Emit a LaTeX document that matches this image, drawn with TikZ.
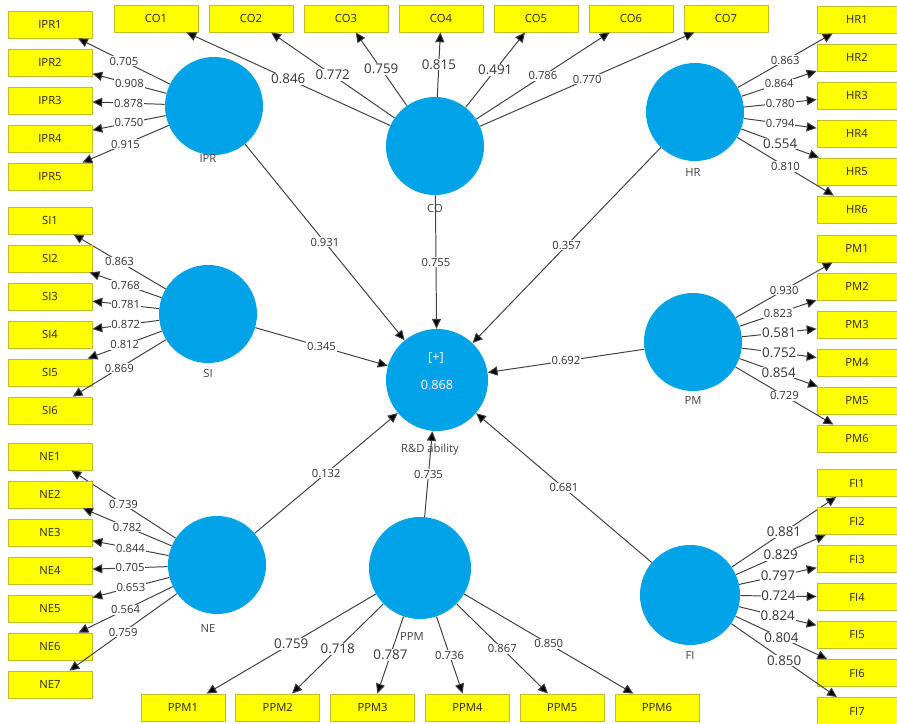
\documentclass[tikz,border=0pt]{standalone}
\usepackage{fontspec}
\setmainfont{Open Sans}
\usetikzlibrary{calc}
\usetikzlibrary{arrows.meta}
\definecolor{plsblue}{RGB}{0,162,232}
\definecolor{indyellow}{RGB}{255,255,0}
\definecolor{indedge}{RGB}{190,190,40}
\tikzset{
  latent/.style={circle, fill=plsblue, inner sep=0pt, minimum size=2.45cm},
  ind/.style={rectangle, fill=indyellow, draw=indedge, line width=0.6pt, minimum width=2.1cm, minimum height=0.675cm, inner sep=0pt, font=\fontsize{8}{9}\selectfont, text=black!85},
  load/.style={->, >={Triangle[length=7pt, width=6.5pt, fill=black]}, draw=black!75, line width=0.7pt},
  lsmall/.style={fill=white, inner sep=0.6pt, font=\fontsize{8}{9}\selectfont, text=black!80},
  lbig/.style={fill=white, inner sep=0.6pt, font=\fontsize{9.5}{10}\selectfont, text=black!80},
  lvname/.style={font=\fontsize{8}{9}\selectfont, text=black!75},
  inw/.style={font=\fontsize{9}{10}\selectfont, text=white},
}

\begin{document}
\begin{tikzpicture}[x=0.025cm, y=-0.025cm]
\useasboundingbox (0,0) rectangle (897,724);

% latent variables
\node[latent] (IPR) at (214,106) {};
\node[latent] (CO) at (435,146) {};
\node[latent] (HR) at (695,112) {};
\node[latent] (SI) at (208,314) {};
\node[latent] (PM) at (693,342) {};
\node[latent] (NE) at (217,565) {};
\node[latent, minimum size=2.55cm] (PPM) at (420,568) {};
\node[latent, minimum size=2.5cm] (FI) at (690,595) {};
\node[latent, minimum size=2.55cm] (RD) at (437,380) {};

\node[inw] (RDplus) at (436,358) {[+]};
\node[inw] (RDval) at (437,385) {0.868};

\node[lvname] (IPRt) at (208,158) {IPR};
\node[lvname] (COt) at (435,208) {CO};
\node[lvname] (HRt) at (693,172) {HR};
\node[lvname] (SIt) at (208,373) {SI};
\node[lvname] (PMt) at (693,400) {PM};
\node[lvname] (NEt) at (208,628) {NE};
\node[lvname] (PPMt) at (412,636) {PPM};
\node[lvname] (FIt) at (690,655) {FI};
\node[lvname] (RDt) at (430,450) {R\&D ability};

% indicators, left
\foreach \i/\v/\s in {1/0.705/lsmall, 2/0.908/lsmall, 3/0.878/lsmall, 4/0.750/lsmall, 5/0.915/lsmall} {
  \pgfmathsetmacro{\yy}{24.5+38*(\i-1)}
  \node[ind] (IPR\i) at (50,\yy) {IPR\i};
  \draw[load] (IPR) -- (IPR\i) node[midway,\s] {\v};
}
\foreach \i/\v/\s in {1/0.863/lsmall, 2/0.768/lsmall, 3/0.781/lsmall, 4/0.872/lsmall, 5/0.812/lsmall, 6/0.869/lsmall} {
  \pgfmathsetmacro{\yy}{220.5+38*(\i-1)}
  \node[ind] (SI\i) at (50,\yy) {SI\i};
  \draw[load] (SI) -- (SI\i) node[midway,\s] {\v};
}
\foreach \i/\v/\s in {1/0.739/lsmall, 2/0.782/lsmall, 3/0.844/lsmall, 4/0.705/lsmall, 5/0.653/lsmall, 6/0.564/lsmall, 7/0.759/lsmall} {
  \pgfmathsetmacro{\yy}{456.5+38*(\i-1)}
  \node[ind] (NE\i) at (50,\yy) {NE\i};
  \draw[load] (NE) -- (NE\i) node[midway,\s] {\v};
}

% indicators, top and bottom
\foreach \i/\v/\s in {1/0.846/lbig, 2/0.772/lbig, 3/0.759/lbig, 4/0.815/lbig, 5/0.491/lbig, 6/0.786/lsmall, 7/0.770/lsmall} {
  \pgfmathsetmacro{\xx}{156+95*(\i-1)}
  \node[ind] (CO\i) at (\xx,18.5) {CO\i};
  \draw[load] (CO) -- (CO\i) node[midway,\s] {\v};
}
\foreach \i/\v/\s in {1/0.759/lbig, 2/0.718/lbig, 3/0.787/lbig, 4/0.736/lsmall, 5/0.867/lsmall, 6/0.850/lsmall} {
  \pgfmathsetmacro{\xx}{183+94.8*(\i-1)}
  \node[ind] (PPM\i) at (\xx,707.5) {PPM\i};
  \draw[load] (PPM) -- (PPM\i) node[midway,\s] {\v};
}

% indicators, right
\foreach \i/\v/\s in {1/0.863/lsmall, 2/0.864/lsmall, 3/0.780/lsmall, 4/0.794/lsmall, 5/0.554/lbig, 6/0.810/lsmall} {
  \pgfmathsetmacro{\yy}{19.5+38*(\i-1)}
  \node[ind, minimum width=2cm] (HR\i) at (857,\yy) {HR\i};
  \draw[load] (HR) -- (HR\i) node[midway,\s] {\v};
}
\foreach \i/\v/\s in {1/0.930/lsmall, 2/0.823/lsmall, 3/0.581/lbig, 4/0.752/lbig, 5/0.854/lbig, 6/0.729/lsmall} {
  \pgfmathsetmacro{\yy}{248.5+38*(\i-1)}
  \node[ind, minimum width=2cm] (PM\i) at (857,\yy) {PM\i};
  \draw[load] (PM) -- (PM\i) node[midway,\s] {\v};
}
\foreach \i/\v/\s in {1/0.881/lbig, 2/0.829/lbig, 3/0.797/lbig, 4/0.724/lbig, 5/0.824/lbig, 6/0.804/lbig, 7/0.850/lbig} {
  \pgfmathsetmacro{\yy}{483+38*(\i-1)}
  \node[ind, minimum width=2cm] (FI\i) at (857,\yy) {FI\i};
  \draw[load] (FI) -- (FI\i) node[midway,\s] {\v};
}

% structural paths
\draw[load] (IPR) -- (RD) node[midway,lsmall] {0.931};
\draw[load] (CO) -- (RD) node[midway,lsmall] {0.755};
\draw[load] (HR) -- (RD) node[midway,lsmall] {0.357};
\draw[load] (SI) -- (RD) node[midway,lsmall] {0.345};
\draw[load] (PM) -- (RD) node[midway,lsmall] {0.692};
\draw[load] (NE) -- (RD) node[midway,lsmall] {0.132};
\draw[load] (PPM) -- (RD) node[midway,lsmall] {0.735};
\draw[load] (FI) -- (RD) node[midway,lsmall] {0.681};

\end{tikzpicture}
\end{document}
